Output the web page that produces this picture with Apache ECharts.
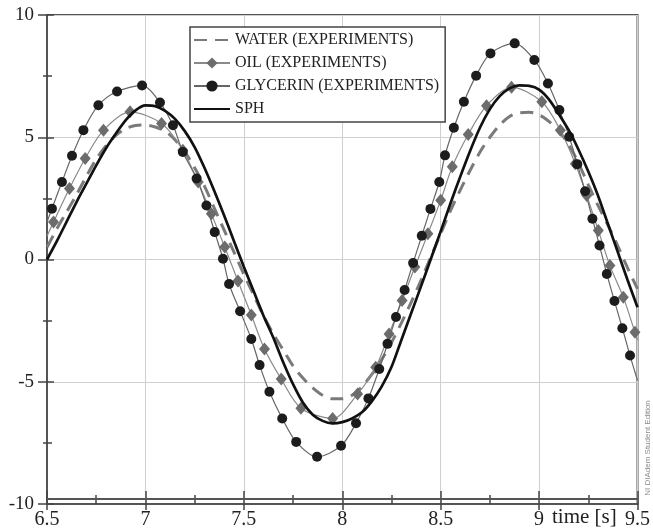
<!DOCTYPE html>
<html><head><meta charset="utf-8">
<script src="https://cdn.jsdelivr.net/npm/echarts@6/dist/echarts.min.js"></script>
<style>html,body{margin:0;padding:0;background:#fff;}#c{width:653px;height:532px;}</style>
</head><body><div id="c"></div>
<script>
const seriesNames = ['WATER (EXPERIMENTS)', 'OIL (EXPERIMENTS)', 'GLYCERIN (EXPERIMENTS)', 'SPH'];
const xAxisName = 'time [s]';
const watermark = 'NI DIAdem Student Edition';

const simTime = [6.5,6.55,6.6,6.65,6.7,6.75,6.8,6.85,6.9,6.95,7,7.05,7.1,7.15,7.2,7.25,7.3,7.35,7.4,7.45,
  7.5,7.55,7.6,7.65,7.7,7.75,7.8,7.85,7.9,7.95,8,8.05,8.1,8.15,8.2,8.25,8.3,8.35,8.4,8.45,
  8.5,8.55,8.6,8.65,8.7,8.75,8.8,8.85,8.9,8.95,9,9.05,9.1,9.15,9.2,9.25,9.3,9.35,9.4,9.45,9.5];

const sphValues = [0,0.75,1.55,2.35,3.1,3.85,4.55,5.15,5.7,6.1,6.3,6.27,6.08,5.75,5.25,4.6,3.75,2.8,1.8,0.75,
  -0.3,-1.3,-2.3,-3.2,-4.2,-5.1,-5.85,-6.35,-6.6,-6.7,-6.65,-6.5,-6.25,-5.8,-5.2,-4.4,-3.3,-2.2,-1.1,0.02,
  1.15,2.3,3.4,4.45,5.4,6.15,6.68,7.0,7.12,7.1,6.95,6.55,5.95,5.3,4.5,3.6,2.6,1.45,0.3,-0.85,-1.95];

const waterValues = [0.5,1.25,1.95,2.65,3.4,4.1,4.65,5.08,5.35,5.48,5.5,5.42,5.25,4.9,4.4,3.75,3.0,2.1,1.2,0.3,
  -0.6,-1.45,-2.3,-3.05,-3.7,-4.35,-4.85,-5.25,-5.55,-5.7,-5.7,-5.55,-5.2,-4.7,-4.1,-3.4,-2.6,-1.75,-0.85,0.1,
  1.05,2.0,2.85,3.65,4.4,5.0,5.5,5.85,6.0,6.02,5.92,5.65,5.25,4.7,3.95,3.05,2.2,1.4,0.55,-0.35,-1.2];

const oilTime = [6.5,6.533,6.614,6.694,6.787,6.922,7.082,7.19,7.268,7.335,7.403,7.47,7.538,7.605,7.69,7.79,7.951,
  8.078,8.17,8.238,8.304,8.369,8.435,8.5,8.559,8.64,8.733,8.86,9.014,9.108,9.184,9.242,9.301,9.36,9.428,9.487,9.5];
const oilValues = [0.95,1.53,2.9,4.13,5.29,6.04,5.56,4.47,3.17,1.87,0.51,-0.88,-2.27,-3.66,-4.89,-6.08,-6.5,
  -5.5,-4.41,-3.05,-1.68,-0.31,1.05,2.42,3.79,5.11,6.29,7.05,6.45,5.29,3.92,2.62,1.19,-0.25,-1.54,-2.98,-3.3];

const glyTime = [6.5,6.525,6.576,6.627,6.685,6.761,6.856,6.983,7.074,7.14,7.19,7.26,7.31,7.352,7.394,7.425,7.481,
  7.538,7.58,7.63,7.695,7.766,7.872,7.994,8.07,8.133,8.188,8.23,8.273,8.317,8.36,8.404,8.448,8.493,8.522,8.567,
  8.618,8.68,8.753,8.876,8.976,9.045,9.103,9.153,9.194,9.234,9.271,9.307,9.344,9.383,9.423,9.462,9.5];
const glyValues = [1.53,2.08,3.17,4.24,5.29,6.31,6.87,7.12,6.42,5.49,4.4,3.31,2.21,1.12,0.03,-1.0,-2.12,
  -3.25,-4.32,-5.41,-6.5,-7.46,-8.07,-7.62,-6.7,-5.68,-4.48,-3.45,-2.35,-1.25,-0.14,0.97,2.07,3.17,4.26,5.39,
  6.45,7.52,8.43,8.84,8.16,7.2,6.11,5.02,3.9,2.79,1.67,0.57,-0.59,-1.7,-2.81,-3.93,-4.95];

const serif = 'Liberation Serif';
const clear = 'rgba(0,0,0,0)';

function markerData(ts, vs, sym) {
  const last = ts.length - 1;
  return ts.map((t, i) => ({ value: [t, vs[i]], symbol: (i === 0 || i === last) ? 'none' : sym }));
}

const chart = echarts.init(document.getElementById('c'), null, { renderer: 'canvas' });
const axisCommonX = { type: 'value', min: 6.5, max: 9.5, interval: 0.5, position: 'bottom', offset: 0 };
const axisCommonY = { type: 'value', min: -10, max: 10, interval: 5, position: 'left', offset: 0 };

chart.setOption({
  animation: false,
  backgroundColor: '#fff',
  grid: { left: 47, right: 14, top: 15, bottom: 28, show: true, borderColor: '#555', borderWidth: 2, backgroundColor: 'transparent' },
  legend: {
    orient: 'vertical', left: 190, top: 27,
    padding: [5, 6, 5, 3], itemGap: 7, itemWidth: 36, itemHeight: 14,
    borderColor: '#444', borderWidth: 1.5, backgroundColor: '#fff',
    textStyle: { fontFamily: serif, fontSize: 16, color: '#222', lineHeight: 16 },
    data: [
      { name: seriesNames[0], itemStyle: { color: clear, borderColor: clear, borderWidth: 0 } },
      { name: seriesNames[1] },
      { name: seriesNames[2] },
      { name: seriesNames[3], itemStyle: { color: clear, borderColor: clear, borderWidth: 0 } }
    ]
  },
  xAxis: [
    Object.assign({}, axisCommonX, {
      axisLine: { show: true, onZero: false, lineStyle: { color: '#555', width: 2 } },
      axisTick: { show: true, inside: true, length: 13, lineStyle: { color: '#444', width: 1.5 } },
      minorTick: { show: true, splitNumber: 2, length: 9, lineStyle: { color: '#444', width: 1.5 } },
      axisLabel: { fontFamily: serif, fontSize: 20, color: '#222', margin: 6 },
      splitLine: { show: true, lineStyle: { color: '#cfcfcf', width: 1 } }
    }),
    Object.assign({}, axisCommonX, {
      axisLine: { show: false, onZero: false },
      axisTick: { show: true, inside: false, length: 6, lineStyle: { color: '#444', width: 1.5 } },
      axisLabel: { show: false },
      splitLine: { show: false }
    })
  ],
  yAxis: [
    Object.assign({}, axisCommonY, {
      axisLine: { show: true, onZero: false, lineStyle: { color: '#555', width: 2 } },
      axisTick: { show: true, inside: false, length: 9, lineStyle: { color: '#444', width: 1.5 } },
      minorTick: { show: true, splitNumber: 2, length: 4, lineStyle: { color: '#444', width: 1.5 } },
      axisLabel: { fontFamily: serif, fontSize: 19, color: '#222', margin: 13 },
      splitLine: { show: true, lineStyle: { color: '#cfcfcf', width: 1 } }
    }),
    Object.assign({}, axisCommonY, {
      axisLine: { show: false, onZero: false },
      axisTick: { show: true, inside: true, length: 7, lineStyle: { color: '#444', width: 1.5 } },
      minorTick: { show: true, splitNumber: 2, length: 5, lineStyle: { color: '#444', width: 1.5 } },
      axisLabel: { show: false },
      splitLine: { show: false }
    })
  ],
  series: [
    {
      name: seriesNames[0], type: 'line', xAxisIndex: 0, yAxisIndex: 0,
      data: simTime.map((t, i) => [t, waterValues[i]]),
      showSymbol: false, symbol: 'none', smooth: 0.3,
      lineStyle: { color: '#7a7a7a', width: 3, type: [13, 8] },
      itemStyle: { color: '#7a7a7a' }, z: 2
    },
    {
      name: seriesNames[1], type: 'line', xAxisIndex: 0, yAxisIndex: 0,
      data: markerData(oilTime, oilValues, 'diamond'),
      symbol: 'diamond', symbolSize: [11, 13], showAllSymbol: true, smooth: 0.3,
      lineStyle: { color: '#8a8a8a', width: 1.2 },
      itemStyle: { color: '#6c6c6c', borderColor: '#6c6c6c', borderWidth: 0 }, z: 3
    },
    {
      name: seriesNames[2], type: 'line', xAxisIndex: 0, yAxisIndex: 0,
      data: markerData(glyTime, glyValues, 'circle'),
      symbol: 'circle', symbolSize: 10, showAllSymbol: true, smooth: 0.3,
      lineStyle: { color: '#666', width: 1.2 },
      itemStyle: { color: '#1c1c1c', borderColor: '#1c1c1c', borderWidth: 0 }, z: 4
    },
    {
      name: seriesNames[3], type: 'line', xAxisIndex: 0, yAxisIndex: 0,
      data: simTime.map((t, i) => [t, sphValues[i]]),
      showSymbol: false, symbol: 'none', smooth: 0.3,
      lineStyle: { color: '#111', width: 2.7 },
      itemStyle: { color: '#111' }, z: 5,
      markLine: {
        silent: true, symbol: 'none', label: { show: false }, animation: false,
        lineStyle: { color: '#555', width: 2, type: 'solid' },
        data: [{ yAxis: -9.77 }]
      }
    }
  ],
  graphic: [
    { type: 'text', left: 552, top: 507, style: { text: xAxisName, font: '21px "Liberation Serif"', fill: '#222' } },
    { type: 'text', x: 648, y: 448, rotation: Math.PI / 2,
      style: { text: watermark, font: '8px "Liberation Sans"', fill: '#8a8a8a', align: 'center', verticalAlign: 'middle' } }
  ]
});
</script></body></html>
